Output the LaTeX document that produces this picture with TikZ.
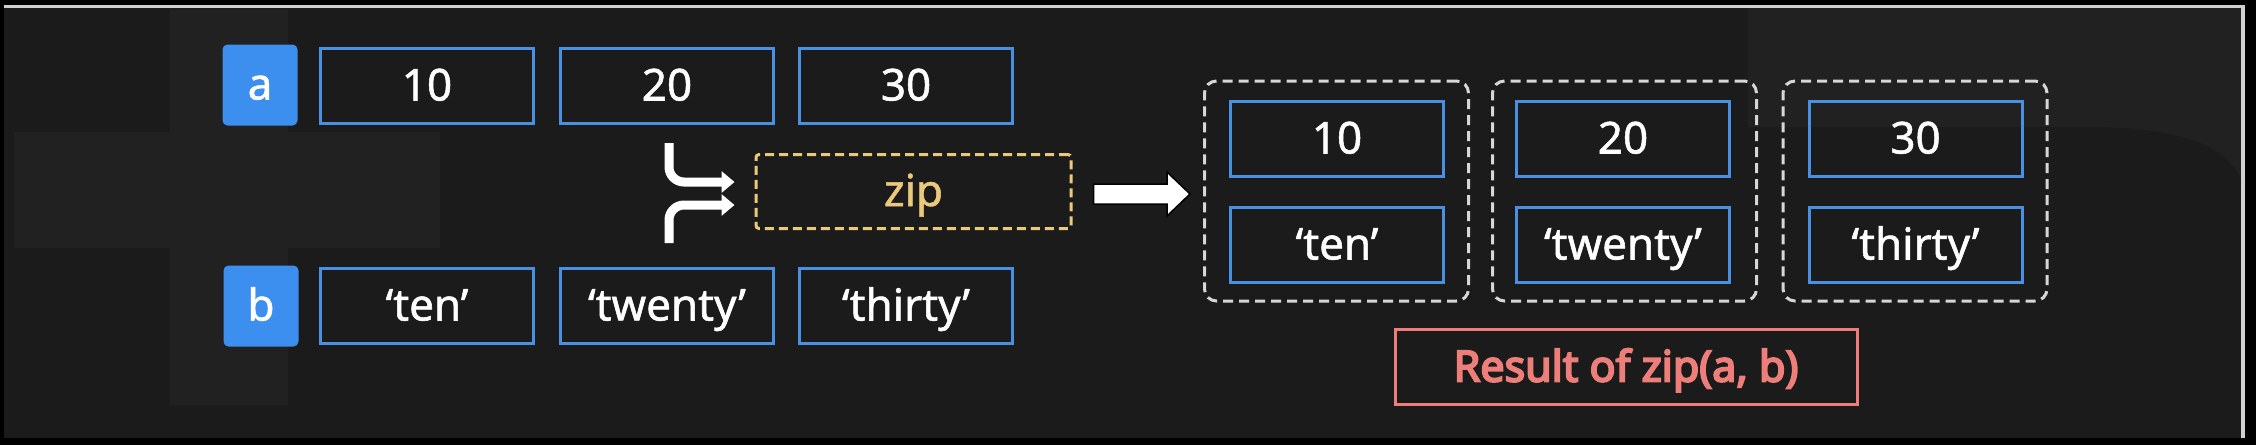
\documentclass[tikz,border=0pt]{standalone}
\usepackage{fontspec}
\setmainfont{Noto Sans}[FakeBold=1.2]
\newfontfamily\resfont{Noto Sans}[FakeBold=4.5]
\usetikzlibrary{arrows.meta,calc}
\definecolor{bgc}{HTML}{1B1B1B}
\definecolor{bgl}{HTML}{212121}
\definecolor{boxblue}{HTML}{4A90E2}
\definecolor{labblue}{HTML}{3C8FEF}
\definecolor{zipc}{HTML}{EBC97C}
\definecolor{resc}{HTML}{EE7E79}
\definecolor{dashg}{HTML}{D6D6D6}
\definecolor{framec}{HTML}{D0D0D0}
\begin{document}
\begin{tikzpicture}[x=1pt,y=-1pt,
  txt/.style={font=\fontsize{44}{52}\selectfont, text height=29pt, text depth=0pt, inner sep=0pt},
  valbox/.style={txt, draw=boxblue, line width=3pt, text=white, minimum width=213pt, minimum height=75pt},
  labbox/.style={txt, fill=labblue, rounded corners=5pt, text=white, minimum width=75pt, minimum height=81pt},
  grpbox/.style={draw=dashg, line width=3pt, dash pattern=on 10pt off 6pt, rounded corners=12pt, minimum width=264pt, minimum height=220pt, inner sep=0pt},
  zipbox/.style={txt, draw=zipc, text=zipc, line width=3pt, dash pattern=on 9pt off 5pt, rounded corners=3pt, minimum width=315pt, minimum height=74pt},
  resbox/.style={txt, font=\fontsize{43}{52}\resfont, draw=resc, text=resc, line width=3pt, minimum width=462pt, minimum height=75pt},
  merge/.style={draw=white, line width=9pt, rounded corners=15pt, -{Triangle[width=21pt,length=13pt]}},
  bigarrow/.style={fill=white, draw=black, line width=1.5pt, line join=miter}
]
\useasboundingbox (0,0) rectangle (2256,445);
% backdrop
\fill[black] (0,0) rectangle (2256,445);
\fill[bgc] (4,8) rectangle (2245,438);
\fill[bgl] (170,10) rectangle (288,405);
\fill[bgl] (14,132) rectangle (440,248);
\fill[bgl] (1748,8) -- (2245,8) -- (2245,190) .. controls (2235,150) and (2190,127) .. (2090,127) -- (1748,127) -- cycle;
\draw[framec, line width=3pt] (4,6.5) -- (2245,6.5);
\draw[framec, line width=4pt] (2243,5) -- (2243,438);

% inputs
\node[labbox] (la) at (260,85) {a};
\node[labbox] (lb) at (261,306) {b};
\node[valbox] (a1) at (427,86) {10};
\node[valbox] (a2) at (667,86) {20};
\node[valbox] (a3) at (906,86) {30};
\node[valbox] (b1) at (427,306) {‘ten’};
\node[valbox] (b2) at (667,306) {‘twenty’};
\node[valbox] (b3) at (906,306) {‘thirty’};

% zip
\node[zipbox] (zip) at (913.5,191.5) {zip};

% result groups
\node[grpbox] (g1) at (1336.5,191) {};
\node[grpbox] (g2) at (1624.5,191) {};
\node[grpbox] (g3) at (1915,191) {};
\node[valbox] (r1a) at (1337,139) {10};
\node[valbox] (r1b) at (1337,245) {‘ten’};
\node[valbox] (r2a) at (1623,139) {20};
\node[valbox] (r2b) at (1623,245) {‘twenty’};
\node[valbox] (r3a) at (1915.5,139) {30};
\node[valbox] (r3b) at (1915.5,245) {‘thirty’};
\node[resbox] (res) at (1626,367) {Result of zip(a, b)};

% merge arrows
\coordinate (ta) at (669,143);
\coordinate (tb) at (669,243);
\draw[merge] (ta) |- ($(zip.west)+(-20,-9.5)$);
\draw[merge] (tb) |- ($(zip.west)+(-20,13.5)$);

% big arrow
\coordinate (bs) at ($(zip.east)+(21,2.5)$);
\coordinate (bt) at ($(g1.west)+(-13,3)$);
\filldraw[bigarrow] ($(bs)+(0,-10)$) -- ($(bt)+(-23,-10)$) -- ($(bt)+(-23,-22)$) -- (bt)
  -- ($(bt)+(-23,22)$) -- ($(bt)+(-23,10)$) -- ($(bs)+(0,10)$) -- cycle;
\end{tikzpicture}
\end{document}
